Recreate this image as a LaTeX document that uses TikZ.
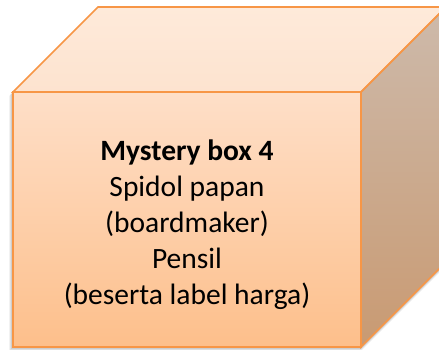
\documentclass[tikz,border=0pt]{standalone}
\usepackage{fontspec}
\setmainfont{Carlito}
\definecolor{edge}{HTML}{F79646}
\definecolor{topface}{HTML}{FEEADA}
\definecolor{topface2}{HTML}{FDE3CF}
\definecolor{fronttop}{HTML}{FEDFC8}
\definecolor{frontbot}{HTML}{FDBF8B}
\definecolor{sidetop}{HTML}{CDBAAB}
\definecolor{sidebot}{HTML}{C99A72}
\tikzset{
  faceedge/.style={draw=edge, line width=1.6pt, line join=miter},
  boxtext/.style={inner sep=0pt, align=center, font=\fontsize{29.5}{36}\selectfont}
}
\begin{document}
\begin{tikzpicture}[x=1pt,y=-1pt]
\useasboundingbox (0,0) rectangle (439,349);
\clip (0,0) rectangle (439,349);
% soft shadow
\foreach \o/\a in {4/0.05,3/0.07,2/0.09}{
  \fill[black,opacity=\a] (13-\o,92+\o) -- (13-\o,347+\o) -- (361,347+\o) -- (446,262+\o) -- (446,262) -- (361,347) -- (13,347) -- (13,92) -- cycle;
}
% top face
\shade[top color=topface, bottom color=topface2] (13,92) -- (98,7) -- (446,7) -- (361,92) -- cycle;
% right face
\shade[top color=sidetop, bottom color=sidebot] (361,92) -- (446,7) -- (446,262) -- (361,347) -- cycle;
% front face
\shade[top color=fronttop, bottom color=frontbot] (13,92) rectangle (361,347);
% edges
\draw[faceedge] (13,92) -- (98,7) -- (446,7) -- (361,92) -- cycle;
\draw[faceedge] (361,92) -- (446,7) -- (446,262) -- (361,347) -- cycle;
\draw[faceedge] (13,92) rectangle (361,347);
\node[boxtext, anchor=north] (label) at (187,140)
  {\textbf{Mystery box 4}\\Spidol papan\\(boardmaker)\\Pensil\\(beserta label harga)};
\end{tikzpicture}
\end{document}
